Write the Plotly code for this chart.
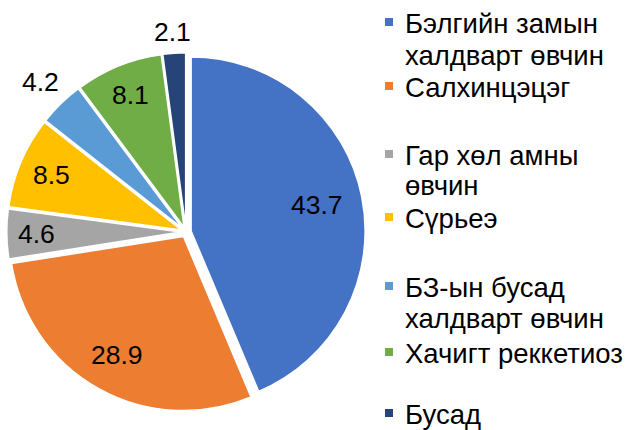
import math
import plotly.graph_objects as go

# ---- data ----
categories = [
    "Бэлгийн замын\nхалдварт өвчин",
    "Салхинцэцэг",
    "Гар хөл амны\nөвчин",
    "Сүрьеэ",
    "БЗ-ын бусад\nхалдварт өвчин",
    "Хачигт реккетиоз",
    "Бусад",
]
values = [43.7, 28.9, 4.6, 8.5, 4.2, 8.1, 2.1]
colors = ["#4472C4", "#ED7D31", "#A5A5A5", "#FFC000", "#5B9BD5", "#70AD47", "#264478"]

# ---- layout / style constants ----
W, H = 629, 430
FONT = "Liberation Sans, Arial, sans-serif"
LEG_SIZE = 27.5
LBL_SIZE = 26.5
CX, CY, R = 186, 232, 174          # pie centre / radius in px
PULL = 0.03
label_radius = [0.77, 0.81, 0.86, 0.84, 1.2, 0.85, 1.15]   # label distance, in radii
legend_baselines = [[33, 65], [97], [165, 195], [228], [297, 328], [363], [424]]
legend_text_x = 403
legend_marker_x = (385, 393)

half = R * (1 + PULL)
fig = go.Figure(go.Pie(
    labels=[c.replace("\n", " ") for c in categories],
    values=values,
    textinfo="none",
    sort=False,
    direction="clockwise",
    rotation=0,
    pull=PULL,
    marker=dict(colors=colors, line=dict(color="white", width=1.5)),
    domain=dict(x=[(CX - half) / W, (CX + half) / W],
                y=[1 - (CY + half) / H, 1 - (CY - half) / H]),
    showlegend=False,
    hoverinfo="label+value",
))

annotations = []
shapes = []

# data labels, placed on each slice's bisector
total = sum(values)
cum = 0.0
for v, rf in zip(values, label_radius):
    mid = (cum + v / 2) / total * 2 * math.pi
    cum += v
    px = CX + rf * R * math.sin(mid)
    py = CY - rf * R * math.cos(mid)
    annotations.append(dict(
        text=f"{v}", xref="paper", yref="paper",
        x=px / W, y=1 - py / H, xanchor="center", yanchor="middle",
        showarrow=False, font=dict(family=FONT, size=LBL_SIZE, color="black"),
    ))

# legend
for cat, col, bls in zip(categories, colors, legend_baselines):
    for line, bl in zip(cat.split("\n"), bls):
        yc = bl - 0.35 * LEG_SIZE
        annotations.append(dict(
            text=line, xref="paper", yref="paper",
            x=legend_text_x / W, y=1 - yc / H,
            xanchor="left", yanchor="middle", showarrow=False,
            font=dict(family=FONT, size=LEG_SIZE, color="black"),
        ))
    my = bls[0] - 11
    shapes.append(dict(
        type="rect", xref="paper", yref="paper",
        x0=legend_marker_x[0] / W, x1=legend_marker_x[1] / W,
        y0=1 - (my - 4) / H, y1=1 - (my + 4) / H,
        fillcolor=col, line=dict(width=0),
    ))

fig.update_layout(
    width=W, height=H,
    margin=dict(l=0, r=0, t=0, b=0),
    paper_bgcolor="white",
    plot_bgcolor="white",
    font=dict(family=FONT, size=LBL_SIZE, color="black"),
    showlegend=False,
    annotations=annotations,
    shapes=shapes,
)

fig.write_html(
    "out.html",
    config={"displayModeBar": False},
    post_script="document.body.style.margin='0px';document.body.style.overflow='hidden';",
)
